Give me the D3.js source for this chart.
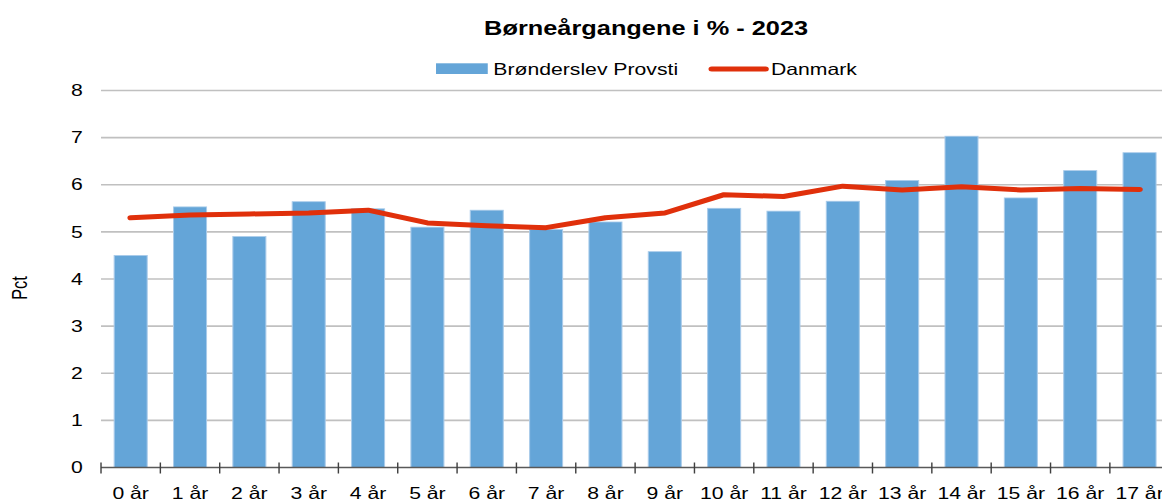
<!DOCTYPE html>
<html>
<head>
<meta charset="utf-8">
<script src="https://cdn.jsdelivr.net/npm/d3@7"></script>
<style>
  html, body { margin: 0; padding: 0; background: #fff; overflow: hidden; }
  text { font-family: "Liberation Sans", Arial, sans-serif; fill: #000; }
</style>
</head>
<body>
<svg id="chart"></svg>
<script>
// data
var categories = ["0 år", "1 år", "2 år", "3 år", "4 år", "5 år", "6 år", "7 år", "8 år",
  "9 år", "10 år", "11 år", "12 år", "13 år", "14 år", "15 år", "16 år", "17 år"];
var provsti = [4.50, 5.53, 4.90, 5.64, 5.49, 5.10, 5.46, 5.05, 5.21, 4.58, 5.50, 5.44, 5.65, 6.09, 7.03, 5.72, 6.30, 6.68];
var danmark = [5.30, 5.36, 5.38, 5.40, 5.46, 5.19, 5.13, 5.09, 5.30, 5.40, 5.79, 5.75, 5.97, 5.89, 5.96, 5.89, 5.92, 5.90];
var yTicks = [0, 1, 2, 3, 4, 5, 6, 7, 8];

var W = 1162, H = 502;
// the original picture is stretched sideways, so draw in a narrower box
var stretch = 1.3;
var VW = W / stretch;

var svg = d3.select("#chart")
  .attr("width", W).attr("height", H)
  .attr("viewBox", "0 0 " + VW + " " + H)
  .attr("preserveAspectRatio", "none");

var left = 77.7, step = 45.65;
var right = left + step * categories.length;
var plotTop = 90.5, plotBottom = 467.5;

var x = d3.scaleBand().domain(categories).range([left, right])
  .paddingInner(0.444).paddingOuter(0.222);
var y = d3.scaleLinear().domain([0, 8]).range([plotBottom, plotTop]);

// gridlines
svg.append("g").selectAll("line").data(yTicks.filter(function(d) { return d > 0; })).enter()
  .append("line")
  .attr("x1", left).attr("x2", right)
  .attr("y1", function(d) { return y(d); }).attr("y2", function(d) { return y(d); })
  .attr("stroke", "#c0c0c0").attr("stroke-width", 1.6);

// y labels
var yAxis = svg.append("g").attr("transform", "translate(" + (left - 14) + ",0)")
  .call(d3.axisLeft(y).tickValues(yTicks).tickSize(0).tickPadding(0));
yAxis.select(".domain").remove();
yAxis.selectAll("text").style("font-size", "16.3px")
  .style("font-family", '"Liberation Sans", Arial, sans-serif').attr("fill", "#000");

// bars
svg.append("g").selectAll("rect").data(provsti).enter()
  .append("rect")
  .attr("x", function(d, i) { return x(categories[i]); })
  .attr("width", x.bandwidth())
  .attr("y", function(d) { return y(d); })
  .attr("height", function(d) { return y(0) - y(d); })
  .attr("fill", "#64a5d8")
  .attr("stroke", "#a9cbea").attr("stroke-width", 0.8);

// x axis line + ticks between categories
var xg = svg.append("g");
xg.append("line").attr("x1", left).attr("x2", right).attr("y1", plotBottom).attr("y2", plotBottom)
  .attr("stroke", "#595959").attr("stroke-width", 1.5);
xg.selectAll("line.tick").data(d3.range(categories.length + 1)).enter()
  .append("line").attr("class", "tick")
  .attr("x1", function(i) { return left + i * x.step(); })
  .attr("x2", function(i) { return left + i * x.step(); })
  .attr("y1", plotBottom - 5).attr("y2", plotBottom + 6)
  .attr("stroke", "#404040").attr("stroke-width", 1.1);

var xAxis = svg.append("g").attr("transform", "translate(0," + plotBottom + ")")
  .call(d3.axisBottom(x).tickSize(0).tickPadding(0));
xAxis.select(".domain").remove();
xAxis.selectAll("text").attr("dy", null).attr("y", 31.5)
  .style("font-size", "16.3px")
  .style("font-family", '"Liberation Sans", Arial, sans-serif').attr("fill", "#000");

// Danmark line
var line = d3.line()
  .x(function(d, i) { return x(categories[i]) + x.bandwidth() / 2; })
  .y(function(d) { return y(d); });
svg.append("path").datum(danmark)
  .attr("d", line)
  .attr("fill", "none")
  .attr("stroke", "#e0300b").attr("stroke-width", 5)
  .attr("stroke-linejoin", "round").attr("stroke-linecap", "round");

// title
svg.append("text").attr("x", 497).attr("y", 35).attr("text-anchor", "middle")
  .style("font-size", "19.5px").style("font-weight", "bold")
  .text("Børneårgangene i % - 2023");

// legend
svg.append("rect").attr("x", 335.4).attr("y", 63.3).attr("width", 39.8).attr("height", 10.7)
  .attr("fill", "#64a5d8");
svg.append("text").attr("x", 379.5).attr("y", 75).style("font-size", "16.3px")
  .text("Brønderslev Provsti");
svg.append("line").attr("x1", 547.5).attr("x2", 588.9).attr("y1", 69).attr("y2", 69)
  .attr("stroke", "#e0300b").attr("stroke-width", 5).attr("stroke-linecap", "round");
svg.append("text").attr("x", 593).attr("y", 75).style("font-size", "16.3px")
  .text("Danmark");

// y title
svg.append("text").attr("transform", "translate(20.5,288) rotate(-90)")
  .attr("text-anchor", "middle").style("font-size", "16.3px")
  .text("Pct");
</script>
</body>
</html>
